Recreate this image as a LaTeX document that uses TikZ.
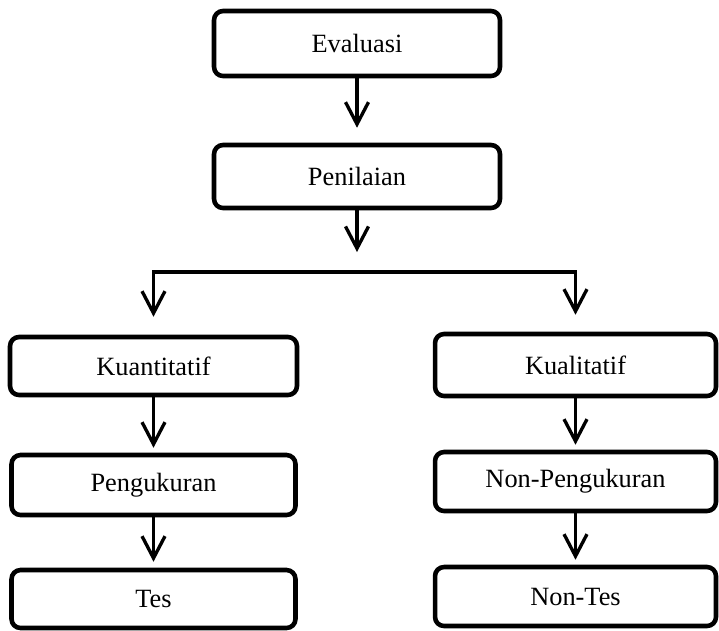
\documentclass[tikz,border=0pt]{standalone}
\usepackage{fontspec}
\setmainfont{Liberation Serif}
\usetikzlibrary{arrows.meta}

\begin{document}
\begin{tikzpicture}[x=0.02cm,y=-0.02cm,
		kotak/.style={draw=black,line width=2.6pt,rounded corners=0.18cm,fill=white,inner sep=0pt,font=\fontsize{15}{18}\selectfont},
		panah/.style={line width=1.9pt,-{Straight Barb[length=0.44cm,width=0.46cm]}}]
			\useasboundingbox (0,0) rectangle (719,630);
			\node[kotak,minimum width=5.72cm,minimum height=1.3cm] (evaluasi) at (357,43.5) {Evaluasi};
			\node[kotak,minimum width=5.72cm,minimum height=1.26cm] (penilaian) at (357,176.5) {Penilaian};
			\node[kotak,minimum width=5.74cm,minimum height=1.16cm] (kuantitatif) at (153.5,366) {Kuantitatif};
			\node[kotak,minimum width=5.68cm,minimum height=1.2cm] (pengukuran) at (153.5,485) {Pengukuran};
			\node[kotak,minimum width=5.68cm,minimum height=1.16cm] (tes) at (153.5,599) {Tes};
			\node[kotak,minimum width=5.62cm,minimum height=1.24cm] (kualitatif) at (575.5,365) {Kualitatif};
			\node[kotak,minimum width=5.62cm,minimum height=1.18cm] (nonpengukuran) at (575.5,481.5) {Non-Pengukuran};
			\node[kotak,minimum width=5.62cm,minimum height=1.18cm] (nontes) at (575.5,596.5) {Non-Tes};
			\coordinate (cabang) at (357,272);
			\draw[panah,shorten >=0.3cm] (evaluasi) -- (penilaian);
			\draw[panah,shorten >=0.4cm] (penilaian) -- (cabang);
			\draw[panah,shorten >=0.36cm] (cabang) -| (kuantitatif);
			\draw[panah,shorten >=0.34cm] (cabang) -| (kualitatif);
			\draw[panah,shorten >=0.1cm] (kuantitatif) -- (pengukuran);
			\draw[panah,shorten >=0.12cm] (pengukuran) -- (tes);
			\draw[panah,shorten >=0.1cm] (kualitatif) -- (nonpengukuran);
			\draw[panah,shorten >=0.1cm] (nonpengukuran) -- (nontes);
		\end{tikzpicture}
\end{document}
